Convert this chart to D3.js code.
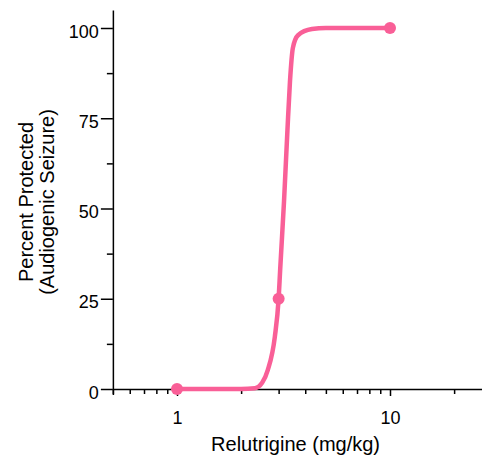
<!DOCTYPE html>
<html>
<head>
<meta charset="utf-8">
<script src="https://cdn.jsdelivr.net/npm/d3@7"></script>
<style>
  body { margin: 0; background: #fff; }
  svg { display: block; font-family: "Liberation Sans", Arial, sans-serif; }
  .axis path, .axis line { stroke: #000; stroke-width: 1.5px; }
  .axis text { font-size: 18px; fill: #000; }
</style>
</head>
<body>
<script>
// dose-response: relutrigine vs audiogenic seizure protection

var doses = [1, 3, 10];
var protectedPct = [0, 25, 100];

// fitted curve
var fitDose = [1, 2.0, 2.32, 2.51, 2.67, 2.88, 3.0, 3.05, 3.18, 3.30, 3.39, 3.50, 3.70, 4.3, 5, 10];
var fitPct  = [0, 0, 0.2, 1.7, 5.3, 14.5, 25, 33, 52, 71.7, 85, 94.5, 98, 99.7, 100, 100];

var xMajor = [1, 10];
var xMinor = [0.5, 0.6, 0.7, 0.8, 0.9, 2, 3, 4, 5, 6, 7, 8, 9, 20, 30];
var yMajor = [0, 25, 50, 75, 100];
var yMinor = [12.5, 37.5, 62.5, 87.5];

var width = 482, height = 458;
var color = "#f95f97";

var svg = d3.select("body").append("svg")
    .attr("width", width)
    .attr("height", height);

var decade = 213;
var x = d3.scaleLog()
    .domain([0.5, 30])
    .range([177 + decade * Math.log10(0.5), 177 + decade * Math.log10(30)]);

var y = d3.scaleLinear()
    .domain([-1.5, 105])
    .range([389 + 1.5 * 3.61, 389 - 105 * 3.61]);

// x axis
var xAxis = svg.append("g")
    .attr("class", "axis")
    .attr("transform", "translate(0," + y(0) + ")")
    .call(d3.axisBottom(x).tickValues(xMajor).tickFormat(d3.format("d")).tickSize(7).tickSizeOuter(0).tickPadding(15));

svg.append("g")
    .attr("class", "axis")
    .attr("transform", "translate(0," + y(0) + ")")
    .call(d3.axisBottom(x).tickValues(xMinor).tickFormat("").tickSize(5).tickSizeOuter(0))
    .select(".domain").remove();

// y axis
svg.append("g")
    .attr("class", "axis")
    .attr("transform", "translate(" + x(0.5) + ",0)")
    .call(d3.axisLeft(y).tickValues(yMajor).tickSize(12).tickSizeOuter(0).tickPadding(2))
    .selectAll("text").attr("dy", "0.5em");

svg.append("g")
    .attr("class", "axis")
    .attr("transform", "translate(" + x(0.5) + ",0)")
    .call(d3.axisLeft(y).tickValues(yMinor).tickFormat("").tickSize(6).tickSizeOuter(0))
    .select(".domain").remove();

// fitted curve
var fit = fitDose.map(function(d, i) { return [d, fitPct[i]]; });
var line = d3.line()
    .x(function(d) { return x(d[0]); })
    .y(function(d) { return y(d[1]); })
    .curve(d3.curveMonotoneX);

svg.append("path")
    .datum(fit)
    .attr("d", line)
    .attr("fill", "none")
    .attr("stroke", color)
    .attr("stroke-width", 4.5)
    .attr("stroke-linejoin", "round");

// data points
svg.selectAll(".point")
    .data(doses)
    .enter().append("circle")
    .attr("class", "point")
    .attr("cx", function(d) { return x(d); })
    .attr("cy", function(d, i) { return y(protectedPct[i]); })
    .attr("r", 6)
    .attr("fill", color);

// axis titles
svg.append("text")
    .attr("x", (x(1) + x(20)) / 2 - 20)
    .attr("y", 451)
    .attr("text-anchor", "middle")
    .style("font-size", "20px")
    .text("Relutrigine (mg/kg)");

var yTitle = svg.append("text")
    .attr("transform", "translate(33," + 202 + ") rotate(-90)")
    .attr("text-anchor", "middle")
    .style("font-size", "20px");
yTitle.append("tspan").attr("x", 0).attr("dy", 0).text("Percent Protected");
yTitle.append("tspan").attr("x", 0).attr("dy", 21).text("(Audiogenic Seizure)");
</script>
</body>
</html>
